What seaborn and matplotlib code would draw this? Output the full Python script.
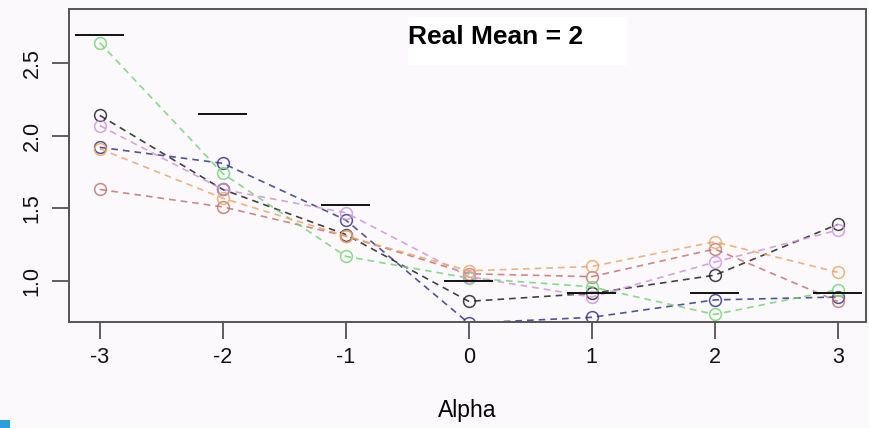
import numpy as np
import pandas as pd
import matplotlib
matplotlib.use("Agg")
import matplotlib.pyplot as plt
from matplotlib.patches import Rectangle
import seaborn as sns

# Estimated means per alpha for each simulation run
alpha = [-3, -2, -1, 0, 1, 2, 3]
true_mean = [2.69, 2.15, 1.52, 1.00, 0.92, 0.92, 0.92]

run_black = [2.14, 1.63, 1.32, 0.86, 0.915, 1.04, 1.39]
run_red = [1.63, 1.51, 1.31, 1.05, 1.03, 1.22, 0.86]
run_green = [2.64, 1.74, 1.17, 1.02, 0.96, 0.77, 0.94]
run_blue = [1.92, 1.81, 1.42, 0.71, 0.75, 0.87, 0.89]
run_violet = [2.07, 1.63, 1.47, 1.03, 0.89, 1.13, 1.35]
run_orange = [1.91, 1.57, 1.31, 1.07, 1.10, 1.27, 1.06]

runs = {
    "blue": run_blue,
    "black": run_black,
    "red": run_red,
    "green": run_green,
    "violet": run_violet,
    "orange": run_orange,
}
palette = {
    "black": "#222222",
    "red": "#c47470",
    "green": "#74d474",
    "blue": "#34378a",
    "violet": "#cf94de",
    "orange": "#e8a868",
}

df = pd.DataFrame(
    [(a, v, name) for name, vals in runs.items() for a, v in zip(alpha, vals)],
    columns=["Alpha", "Mean", "run"],
)

bg = "#fcf9fc"
plt.rcParams["font.family"] = ["Liberation Sans", "DejaVu Sans"]

fig = plt.figure(figsize=(8.7, 4.28), dpi=100, facecolor=bg)
ax = fig.add_axes([0.0793, 0.2477, 0.9161, 0.7313])
ax.set_facecolor(bg)

sns.lineplot(
    data=df, x="Alpha", y="Mean", hue="run", palette=palette,
    marker="o", markersize=8.5, markerfacecolor="none", markeredgewidth=1.1,
    linestyle="--", linewidth=1.2, legend=False, ax=ax,
)
for line in ax.lines:
    line.set_markeredgecolor(line.get_color())
    line.set_dashes((4, 3))
    line.set_alpha(0.85)

# Real means as short horizontal bars
ax.hlines(true_mean, np.array(alpha) - 0.2, np.array(alpha) + 0.2,
          colors="#111111", linewidth=1.4, zorder=4)

ax.set_xlim(-3.25, 3.23)
ax.set_ylim(0.718, 2.872)
ax.set_xticks(alpha)
ax.set_xticklabels([str(a) for a in alpha])
ax.set_yticks([1.0, 1.5, 2.0, 2.5])
ax.set_yticklabels(["1.0", "1.5", "2.0", "2.5"], rotation=90, va="center")
ax.tick_params(axis="both", direction="out", length=12, width=1.2,
               color="#444444", labelsize=15.5, labelcolor="#111111")
ax.tick_params(axis="x", pad=6)
ax.tick_params(axis="y", pad=7)
for s in ax.spines.values():
    s.set_color("#555555")
    s.set_linewidth(1.4)
ax.set_xlabel("Alpha", fontsize=16.5, labelpad=22)
ax.set_ylabel("")

# Annotation box
ax.add_patch(Rectangle((0.4253, 0.821), 0.2748, 0.153, transform=ax.transAxes,
                       facecolor="white", edgecolor="none", zorder=5))
ax.text(0.4253, 0.912, "Real Mean = 2", transform=ax.transAxes,
        fontsize=19, fontweight="bold", va="center", ha="left", zorder=6)

fig.patches.append(Rectangle((0, 0), 10 / 870, 8 / 428, transform=fig.transFigure,
                             facecolor="#2a9fd8", edgecolor="none"))

fig.savefig("out.png", dpi=100, facecolor=bg)
